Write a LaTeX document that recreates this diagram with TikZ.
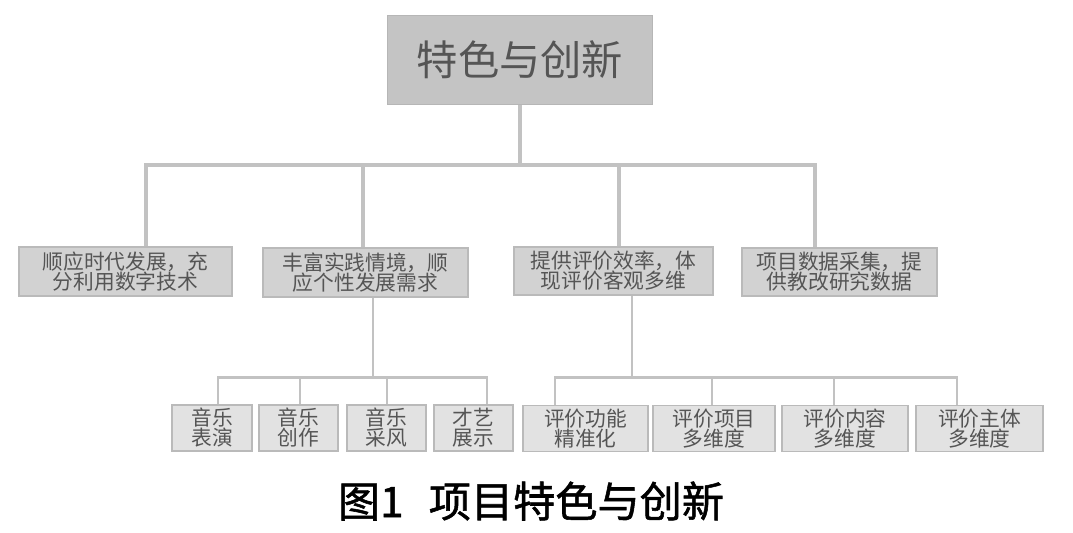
\documentclass[tikz,border=0pt]{standalone}
\usepackage{fontspec}
\setmainfont{Noto Sans CJK SC}
\newfontfamily\capfont[BoldFont={Noto Sans CJK SC}, BoldFeatures={FakeBold=1.3}]{Noto Sans CJK SC}
\usepackage{xcolor}
\definecolor{topFill}{HTML}{C4C4C4}
\definecolor{topEdge}{HTML}{B6B6B6}
\definecolor{midFill}{HTML}{D2D2D2}
\definecolor{midEdge}{HTML}{BABABA}
\definecolor{leafFill}{HTML}{E2E2E2}
\definecolor{linkGray}{HTML}{C2C2C2}
\definecolor{inkGray}{HTML}{555555}
\usepackage{tikz}
\usetikzlibrary{positioning}

\begin{document}
\begin{tikzpicture}[
		x=0.02cm, y=-0.02cm,
		box/.style={
			draw=midEdge,
			line width=0.9pt,
			fill=midFill,
			text=inkGray,
			inner sep=0pt,
			align=center,
			font=\fontsize{11.8}{11.4}\selectfont
		},
		topbox/.style={box, fill=topFill, draw=topEdge, minimum width=5.3cm, minimum height=1.78cm, font=\fontsize{23.5}{23.5}\selectfont},
		midbox/.style={box, minimum height=0.97cm},
		leafbox/.style={box, fill=leafFill, minimum height=0.92cm},
		link/.style={draw=linkGray, line width=2.8pt},
		sublink/.style={draw=linkGray, line width=1.7pt}
		]
		
		\useasboundingbox (0,0) rectangle (1073,532);
		
		\node[topbox] (top) at (520,60) {特色与创新};
		
		\node[midbox, minimum width=4.26cm] (era) at (125.5,271.5) {顺应时代发展，充\\分利用数字技术};
		\node[midbox, minimum width=4.10cm] (scene) at (365.5,272.5) {丰富实践情境，顺\\应个性发展需求};
		\node[midbox, minimum width=3.98cm] (eval) at (613.5,271) {提供评价效率，体\\现评价客观多维};
		\node[midbox, minimum width=3.90cm] (data) at (839.5,272) {项目数据采集，提\\供教改研究数据};
		
		\node[leafbox, minimum width=1.60cm] (perform) at (212,428) {音乐\\表演};
		\node[leafbox, minimum width=1.58cm] (compose) at (298.5,428) {音乐\\创作};
		\node[leafbox, minimum width=1.58cm] (collect) at (386.5,428) {音乐\\采风};
		\node[leafbox, minimum width=1.58cm] (show) at (473.5,428) {才艺\\展示};
		
		\node[leafbox, minimum width=2.50cm] (func) at (585.5,428.5) {评价功能\\精准化};
		\node[leafbox, minimum width=2.44cm] (item) at (714,428.5) {评价项目\\多维度};
		\node[leafbox, minimum width=2.52cm] (content) at (845,428.5) {评价内容\\多维度};
		\node[leafbox, minimum width=2.54cm] (subject) at (979.5,428.5) {评价主体\\多维度};
		
		\node[font=\capfont\fontsize{24}{24}\selectfont\bfseries, text=black] (caption) at (531,501) {图1\hspace{0.6em}项目特色与创新};
		
		\coordinate (hub) at (520,165);
		\coordinate (j1) at (146,165);
		\coordinate (j2) at (363,165);
		\coordinate (j3) at (619,165);
		\coordinate (j4) at (815,165);
		
		\draw[link] (top) -- (hub);
		\draw[link] (j1 |- era.north) -- (j1) -- (j4) -- (j4 |- data.north);
		\draw[link] (j2) -- (j2 |- scene.north);
		\draw[link] (j3) -- (j3 |- eval.north);
		
		\coordinate (k0) at (373,377);
		\coordinate (k1) at (218,377);
		\coordinate (k2) at (300,377);
		\coordinate (k3) at (387,377);
		\coordinate (k4) at (487,377);
		
		\draw[sublink] (k0 |- scene.south) -- (k0);
		\draw[sublink] (k1 |- perform.north) -- (k1) -- (k4) -- (k4 |- show.north);
		\draw[sublink] (k2) -- (k2 |- compose.north);
		\draw[sublink] (k3) -- (k3 |- collect.north);
		
		\coordinate (m0) at (632,377);
		\coordinate (m1) at (555,377);
		\coordinate (m2) at (712,377);
		\coordinate (m3) at (834,377);
		\coordinate (m4) at (957,377);
		
		\draw[sublink] (m0 |- eval.south) -- (m0);
		\draw[sublink] (m1 |- func.north) -- (m1) -- (m4) -- (m4 |- subject.north);
		\draw[sublink] (m2) -- (m2 |- item.north);
		\draw[sublink] (m3) -- (m3 |- content.north);
		
	\end{tikzpicture}
\end{document}
